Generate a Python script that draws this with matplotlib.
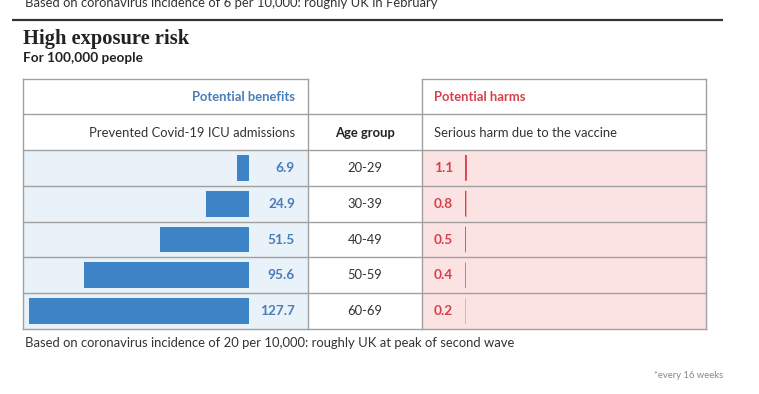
import matplotlib
matplotlib.use("Agg")
import matplotlib.pyplot as plt
from matplotlib.patches import Rectangle

# ###########################################################
# Data
# ###########################################################

age_groups = ["20-29", "30-39", "40-49", "50-59", "60-69"]
benefits = [6.9, 24.9, 51.5, 95.6, 127.7]
harms = [1.1, 0.8, 0.5, 0.4, 0.2]

title = "High exposure risk"
subtitle = "For 100,000 people"
note_top = "Based on coronavirus incidence of 6 per 10,000: roughly UK in February"
note_bottom = "Based on coronavirus incidence of 20 per 10,000: roughly UK at peak of second wave"
footnote = "*every 16 weeks"

# ###########################################################
# Style
# ###########################################################

W, H = 759, 394
sans = ["Lato", "DejaVu Sans"]
serif = ["Liberation Serif", "DejaVu Serif"]
fs = 9.4
c_text = "#333333"
c_blue_bar = "#3d85c6"
c_blue_txt = "#4a7db8"
c_red_bar = "#e0404a"
c_red_txt = "#d6404a"
c_blue_bg = "#e9f1f9"
c_red_bg = "#fce3e3"
c_border = "#a0a0a0"

# table geometry (pixels)
L, BR, HL, R = 22.5, 308, 422, 706
top, h1, h2, bottom = 79, 114, 150, 329
row_h = (bottom - h2) / len(age_groups)
zero_b = 249        # benefit bars grow leftwards from here
zero_h = 465        # harm bars grow rightwards from here
px_per_unit = 220 / 127.7

fig = plt.figure(figsize=(W / 100, H / 100), dpi=100)
ax = fig.add_axes([0, 0, 1, 1])
ax.set_xlim(0, W)
ax.set_ylim(H, 0)
ax.axis("off")


def pix_axes(x0, y0, x1, y1):
    return fig.add_axes([x0 / W, 1 - y1 / H, (x1 - x0) / W, (y1 - y0) / H])


# top note (cut off by the frame in the original) and rule
ax.text(25, 6.5, note_top, family=sans, fontsize=fs, color=c_text, va="baseline")
ax.plot([12, 723], [20, 20], color="#333333", lw=1.6, solid_capstyle="butt")

# titles
ax.text(23, 44, title, family=serif, fontsize=14.8, fontweight="bold", color="#222222", va="baseline")
ax.text(23, 62, subtitle, family=sans, fontsize=9.8, fontweight="bold", color="#222222", va="baseline")

# cell backgrounds
ax.add_patch(Rectangle((L, h2), BR - L, bottom - h2, color=c_blue_bg, lw=0, zorder=0))
ax.add_patch(Rectangle((HL, h2), R - HL, bottom - h2, color=c_red_bg, lw=0, zorder=0))

# borders
lk = dict(color=c_border, lw=1.0, zorder=1)
ax.plot([L, BR], [top, top], **lk)
ax.plot([HL, R], [top, top], **lk)
for y in [h1, h2] + [h2 + i * row_h for i in range(1, len(age_groups))] + [bottom]:
    ax.plot([L, R], [y, y], **lk)
for x in [L, BR, HL, R]:
    ax.plot([x, x], [top, bottom], **lk)

# headers
ax.text(295, 97, "Potential benefits", family=sans, fontsize=fs, fontweight="bold",
        color=c_blue_txt, ha="right", va="center")
ax.text(434, 97, "Potential harms", family=sans, fontsize=fs, fontweight="bold",
        color=c_red_txt, ha="left", va="center")
ax.text(295, 133, "Prevented Covid-19 ICU admissions", family=sans, fontsize=fs,
        color=c_text, ha="right", va="center")
ax.text((BR + HL) / 2, 133, "Age group", family=sans, fontsize=fs, fontweight="bold",
        color="#222222", ha="center", va="center")
ax.text(434, 133, "Serious harm due to the vaccine", family=sans, fontsize=fs,
        color=c_text, ha="left", va="center")

# bars
axb = pix_axes(L, h2, zero_b, bottom)
axb.barh(range(len(benefits)), benefits, height=0.72, color=c_blue_bar)
axb.set_xlim((zero_b - L) / px_per_unit, 0)
axb.set_ylim(len(benefits) - 0.5, -0.5)
axb.axis("off")

axh = pix_axes(zero_h, h2, R, bottom)
axh.barh(range(len(harms)), harms, height=0.72, color=c_red_bar, snap=False)
axh.set_xlim(0, (R - zero_h) / px_per_unit)
axh.set_ylim(len(harms) - 0.5, -0.5)
axh.axis("off")

# row labels
for i, (age, b, h) in enumerate(zip(age_groups, benefits, harms)):
    yc = h2 + (i + 0.5) * row_h
    ax.text(295, yc, f"{b:.1f}", family=sans, fontsize=fs + 0.4, fontweight="bold",
            color=c_blue_txt, ha="right", va="center")
    ax.text((BR + HL) / 2, yc, age, family=sans, fontsize=fs, color=c_text,
            ha="center", va="center")
    ax.text(434, yc, f"{h:.1f}", family=sans, fontsize=fs + 0.4, fontweight="bold",
            color=c_red_txt, ha="left", va="center")

# footer
ax.text(25, 347, note_bottom, family=sans, fontsize=fs, color=c_text, va="baseline")
ax.text(723, 378, footnote, family=sans, fontsize=6.8, color="#888888", ha="right", va="baseline")

fig.savefig("out.png", dpi=100)
